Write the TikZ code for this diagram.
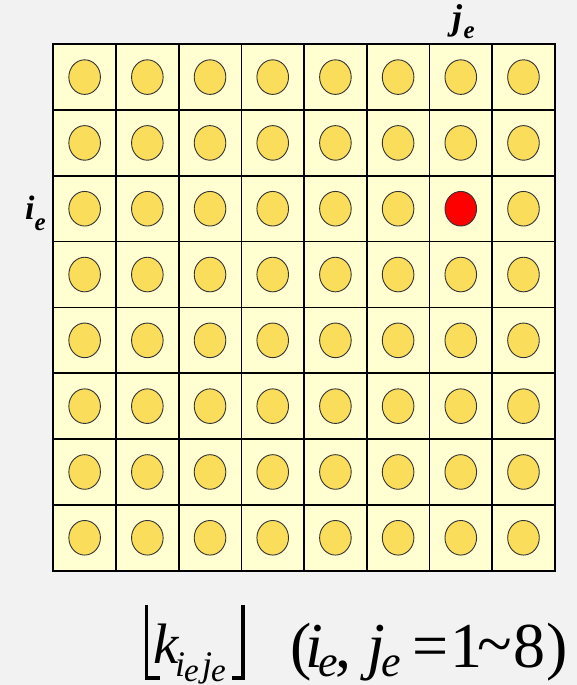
\documentclass[tikz,border=0pt]{standalone}
\usepackage{fontspec}
\setmainfont{Liberation Serif}
\newfontfamily\tnr{Liberation Serif}
\usetikzlibrary{shapes.geometric}
\definecolor{bgcol}{HTML}{F2F2F2}
\definecolor{cellfill}{HTML}{FFFFD2}
\definecolor{dotfill}{HTML}{F9DD5B}
\definecolor{dotline}{HTML}{333333}
\begin{document}
\begin{tikzpicture}[x=1pt,y=-1pt,
  cellbox/.style={draw=black,line width=1.7pt,fill=cellfill,minimum width=62.69pt,minimum height=65.81pt,inner sep=0pt,outer sep=0pt},
  dotshape/.style={ellipse,draw=dotline,line width=0.9pt,minimum width=31.6pt,minimum height=34.6pt,inner sep=0pt},
  lbl/.style={inner sep=0pt,outer sep=0pt,anchor=base west},
  bracket/.style={line width=3.6pt,line join=miter}]
\fill[bgcol] (0,0) rectangle (577,685);
\useasboundingbox (0,0) rectangle (577,685);
% grid of cells with dots
\foreach \r in {1,...,8}{
  \foreach \c in {1,...,8}{
    \def\fc{dotfill}
    \ifnum\r=3 \ifnum\c=7 \def\fc{red}\fi\fi
    \node[cellbox] (c\r\c) at ({53.3+(\c-0.5)*62.69},{44.2+(\r-0.5)*65.81}) {};
    \node[dotshape,fill=\fc] (d\r\c) at (c\r\c.center) {};
  }
}
% axis labels
\node[lbl,font=\tnr\fontsize{36}{40}\selectfont\bfseries\itshape] (jl) at (452,29.7) {j};
\node[lbl,font=\tnr\fontsize{25}{28}\selectfont\bfseries\itshape] (jle) at (463.5,38.6) {e};
\node[lbl,font=\tnr\fontsize{34}{38}\selectfont\bfseries\itshape] (il) at (25,219.7) {i};
\node[lbl,font=\tnr\fontsize{25}{28}\selectfont\bfseries\itshape] (ile) at (34.5,230) {e};
% formula: floor brackets
\coordinate (lbt) at (146.3,605);
\coordinate (lbc) at (146.3,678.2);
\coordinate (lbf) at (159.5,678.2);
\draw[bracket] (lbt) -- (lbc) -- (lbf);
\coordinate (rbt) at (243.2,605);
\coordinate (rbc) at (243.2,678.2);
\coordinate (rbf) at (231.5,678.2);
\draw[bracket] (rbt) -- (rbc) -- (rbf);
% k_{i_e j_e}
\node[lbl,font=\tnr\fontsize{57}{60}\selectfont\itshape] (k) at (153,663) {k};
\node[lbl,font=\tnr\fontsize{36}{40}\selectfont\itshape] (ki) at (175,676) {i};
\node[lbl,font=\tnr\fontsize{33}{36}\selectfont\itshape] (kie) at (184,681.5) {e};
\node[lbl,font=\tnr\fontsize{36}{40}\selectfont\itshape] (kj) at (202,676) {j};
\node[lbl,font=\tnr\fontsize{33}{36}\selectfont\itshape] (kje) at (211,681.5) {e};
% (i_e, j_e = 1 ~ 8)
\node[lbl,font=\tnr\fontsize{64}{68}\selectfont] (lp) at (290,667) {(};
\node[lbl,font=\tnr\fontsize{64}{68}\selectfont\itshape] (ri) at (305,667) {i};
\node[lbl,font=\tnr\fontsize{44}{48}\selectfont\itshape] (rie) at (318,676.5) {e};
\node[lbl,font=\tnr\fontsize{64}{68}\selectfont] (cm) at (335.5,667) {,};
\node[lbl,font=\tnr\fontsize{64}{68}\selectfont\itshape] (rj) at (367,667) {j};
\node[lbl,font=\tnr\fontsize{44}{48}\selectfont\itshape] (rje) at (381,676.5) {e};
\node[lbl,font=\tnr\fontsize{64}{68}\selectfont] (eq) at (412,667) {=};
\node[lbl,font=\tnr\fontsize{64}{68}\selectfont] (one) at (450,667) {1};
\node[lbl,font=\tnr\fontsize{64}{68}\selectfont] (tl) at (477.5,665) {\textasciitilde};
\node[lbl,font=\tnr\fontsize{64}{68}\selectfont] (eight) at (513.4,667) {8};
\node[lbl,font=\tnr\fontsize{64}{68}\selectfont] (rp) at (546,667) {)};
\end{tikzpicture}
\end{document}
